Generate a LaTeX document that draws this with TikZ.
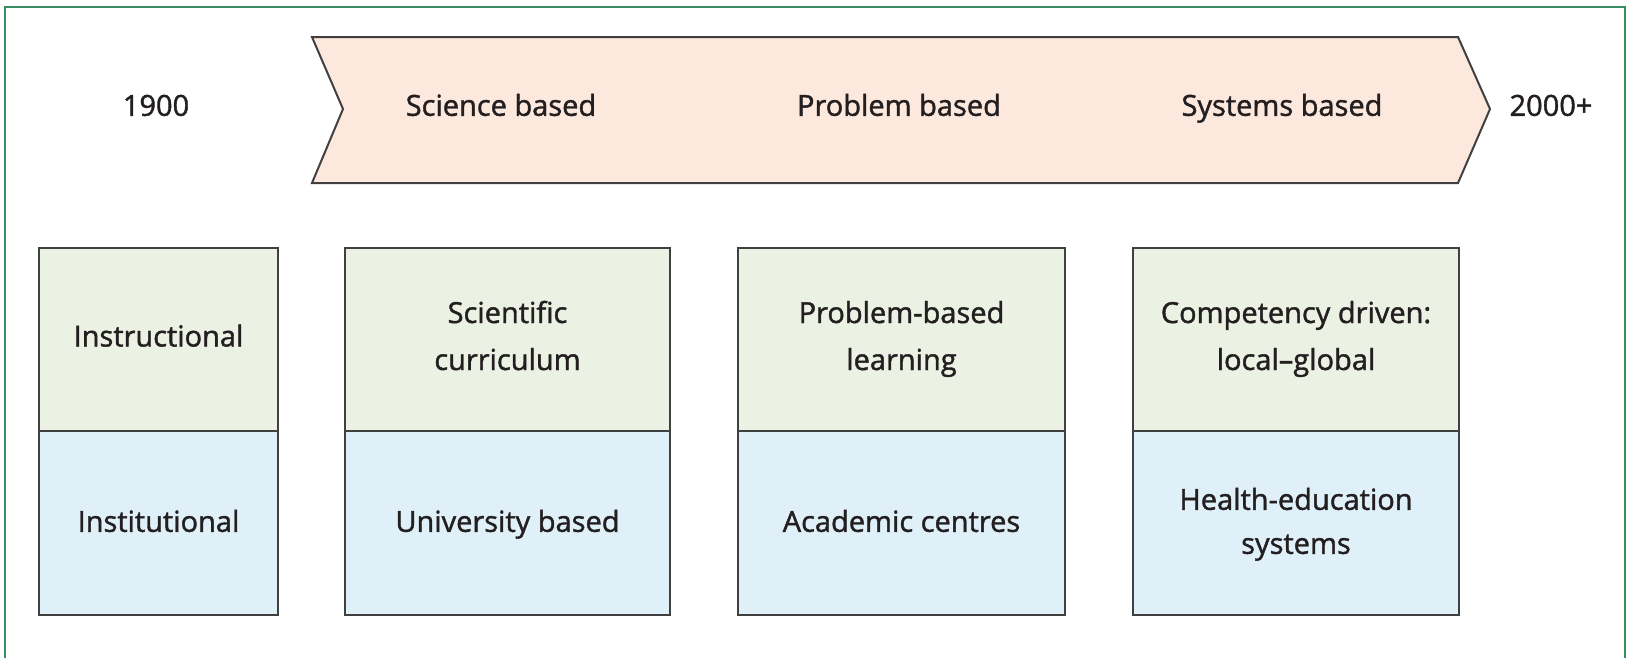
\documentclass[tikz,border=0pt]{standalone}
\usepackage{fontspec}
\setmainfont{Open Sans}
\newfontfamily\lblfont[FakeBold=1.4,Ligatures=TeX]{Open Sans}
\definecolor{peach}{RGB}{253,232,222}
\definecolor{palegreen}{RGB}{235,241,227}
\definecolor{paleblue}{RGB}{223,240,248}
\definecolor{edge}{RGB}{64,64,64}
\definecolor{frame}{RGB}{58,140,98}
\definecolor{ink}{RGB}{35,31,32}
\newcommand\ls{\strut}
\newcommand\lt{\rule[-16pt]{0pt}{46pt}}
\tikzset{
  txt/.style={text=ink, font=\lblfont\fontsize{29}{44}\selectfont, align=center, inner sep=0pt},
  lbl/.style={txt},
  topbox/.style={txt, draw=edge, line width=2pt, fill=palegreen, minimum height=183pt},
  botbox/.style={txt, draw=edge, line width=2pt, fill=paleblue, minimum height=184pt},
}
\begin{document}
\begin{tikzpicture}[x=1pt,y=-1pt]
\useasboundingbox (0,0) rectangle (1627,657);
% frame
\draw[frame, line width=2.5pt] (5,670) -- (5,7) -- (1625,7) -- (1625,670);
% timeline arrow
\draw[edge, line width=2pt, fill=peach, line join=miter]
  (312,37) -- (1458,37) -- (1490,109) -- (1458,183) -- (312,183) -- (343,109) -- cycle;
\node[lbl] (y1900) at (156,107) {\ls 1900};
\node[lbl] (y2000) at (1551,107) {\ls 2000+};
\node[lbl] (sci) at (501,107) {\ls Science based};
\node[lbl] (prob) at (899,107) {\ls Problem based};
\node[lbl] (sys) at (1282,107) {\ls Systems based};
% boxes
\node[topbox, minimum width=239pt] (t1) at (158.5,339.5) {\lt Instructional};
\node[botbox, minimum width=239pt] (b1) at (158.5,523) {\ls Institutional};
\node[topbox, minimum width=325pt] (t2) at (507.5,339.5) {\lt Scientific\\\lt curriculum};
\node[botbox, minimum width=325pt] (b2) at (507.5,523) {\ls University based};
\node[topbox, minimum width=327pt] (t3) at (901.5,339.5) {\lt Problem-based\\\lt learning};
\node[botbox, minimum width=327pt] (b3) at (901.5,523) {\ls Academic centres};
\node[topbox, minimum width=326pt] (t4) at (1296,339.5) {\lt Competency driven:\\\lt local--global};
\node[botbox, minimum width=326pt] (b4) at (1296,523) {\ls Health-education\\\ls systems};
\end{tikzpicture}
\end{document}
